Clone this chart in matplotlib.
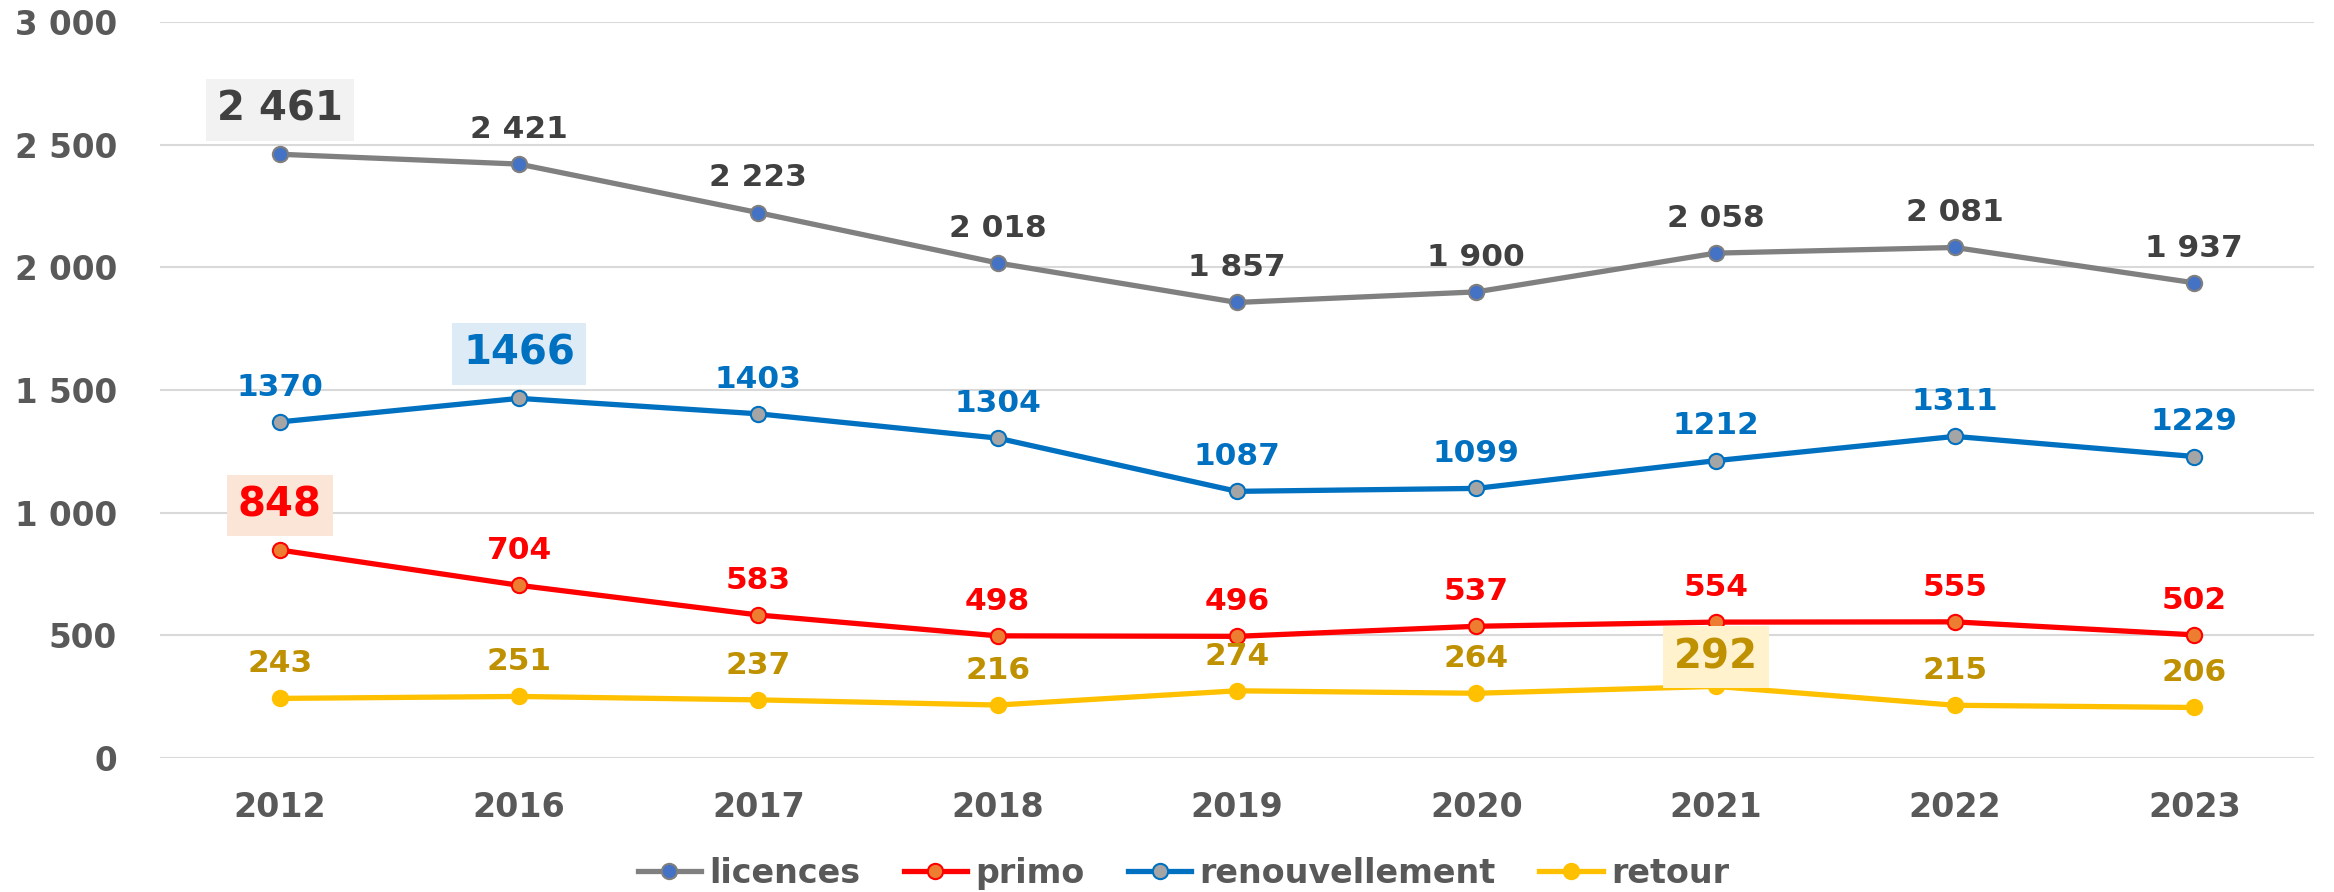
import matplotlib.pyplot as plt
import numpy as np

years = ['2012', '2016', '2017', '2018', '2019', '2020', '2021', '2022', '2023']
licences = [2461, 2421, 2223, 2018, 1857, 1900, 2058, 2081, 1937]
renouvellement = [1370, 1466, 1403, 1304, 1087, 1099, 1212, 1311, 1229]
primo = [848, 704, 583, 498, 496, 537, 554, 555, 502]
retour = [243, 251, 237, 216, 274, 264, 292, 215, 206]

# point mis en avant pour chaque série (index, couleur du cadre)
highlights = {
    'licences': (0, '#F2F2F2'),
    'renouvellement': (1, '#DDEBF7'),
    'primo': (0, '#FBE5D6'),
    'retour': (6, '#FFF2CC'),
}

plt.rcParams['font.family'] = 'DejaVu Sans'
plt.rcParams['font.weight'] = 'bold'


def fmt_space(v):
    return f'{v:,}'.replace(',', ' ')


fig = plt.figure(figsize=(23.34, 8.92), dpi=100)
ax = fig.add_axes([0.0686, 0.1502, 0.9228, 0.8251])

x = np.arange(len(years))

series = [
    ('licences', licences, '#808080', '#4472C4', '#7F7F7F', '#404040', True),
    ('primo', primo, '#FF0000', '#ED7D31', '#FF0000', '#FF0000', False),
    ('renouvellement', renouvellement, '#0070C0', '#A5A5A5', '#0070C0', '#0070C0', False),
    ('retour', retour, '#FFC000', '#FFC000', '#FFC000', '#BF9000', False),
]

for name, vals, lc, mfc, mec, tc, spaced in series:
    ax.plot(x, vals, color=lc, lw=3.8, marker='o', markersize=11,
            markerfacecolor=mfc, markeredgecolor=mec, markeredgewidth=1.5,
            label=name, zorder=3)
    hi, boxc = highlights[name]
    for i, v in enumerate(vals):
        txt = fmt_space(v) if spaced else str(v)
        if i == hi:
            off = 21 if name == 'retour' else 32
            ax.annotate(txt, (x[i], v), xytext=(0, off), textcoords='offset points',
                        ha='center', va='center', fontsize=29, fontweight='bold',
                        color=tc, zorder=4,
                        bbox=dict(boxstyle='square,pad=0.27', fc=boxc, ec='none'))
        else:
            ax.annotate(txt, (x[i], v), xytext=(0, 25), textcoords='offset points',
                        ha='center', va='center', fontsize=22.5, fontweight='bold',
                        color=tc, zorder=4)

ax.set_xlim(-0.5, len(years) - 0.5)
ax.set_ylim(0, 3000)
ax.set_yticks(np.arange(0, 3001, 500))
ax.set_yticklabels([fmt_space(v) for v in range(0, 3001, 500)])
ax.set_xticks(x)
ax.set_xticklabels(years)
ax.tick_params(axis='both', length=0, labelcolor='#595959')
ax.tick_params(axis='y', pad=31, labelsize=23.5)
ax.tick_params(axis='x', pad=24, labelsize=24)
ax.grid(axis='y', color='#D9D9D9', lw=1.5)
ax.set_axisbelow(True)
for s in ax.spines.values():
    s.set_visible(False)

fig.legend(loc='center', bbox_to_anchor=(0.507, 0.021), ncol=4, frameon=False,
           fontsize=24, handlelength=1.9, handletextpad=0.25, columnspacing=1.3,
           labelcolor='#595959')

fig.savefig('out.png', dpi=100)
